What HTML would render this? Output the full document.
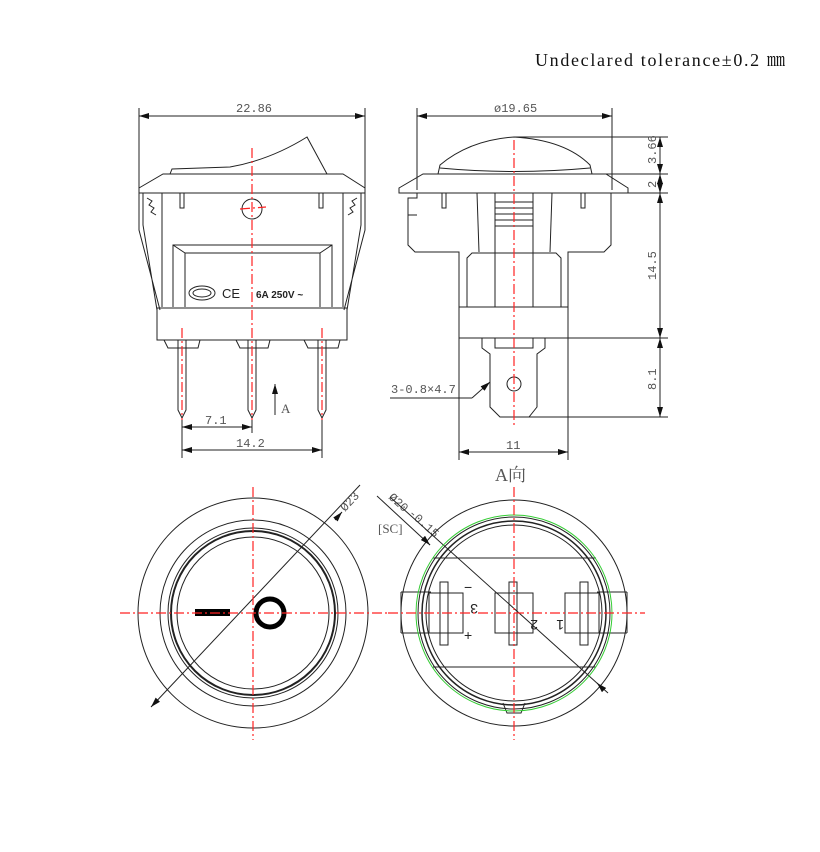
<!DOCTYPE html>
<html><head><meta charset="utf-8"><style>
body{margin:0;background:#fff;width:820px;height:852px;overflow:hidden}
svg{display:block}
text{font-family:"Liberation Mono",monospace;fill:#555;font-size:12px}
.k{stroke:#222;stroke-width:1;fill:none}
.r{stroke:#f22;stroke-width:1.2;stroke-dasharray:10,3,2,3;fill:none}
</style></head><body>
<svg width="820" height="852" viewBox="0 0 820 852">
<defs><marker id="a" markerWidth="10" markerHeight="6" refX="10" refY="3" orient="auto-start-reverse" markerUnits="userSpaceOnUse"><path d="M0,0L10,3L0,6z" fill="#111"/></marker></defs>
<text x="535" y="66" textLength="250" lengthAdjust="spacing" style="font-family:'Liberation Serif','Noto Serif CJK SC',serif;font-size:18px;fill:#111">Undeclared tolerance±0.2 ㎜</text>

<!-- LEFT FRONT VIEW -->
<g class="k">
<line x1="139" y1="108" x2="139" y2="190"/><line x1="365" y1="108" x2="365" y2="190"/>
<line x1="139" y1="116" x2="365" y2="116" marker-start="url(#a)" marker-end="url(#a)"/>
<path d="M170,174 L172,169 L230,167 Q270,160 307,137 L327,174"/>
<path d="M139,188 L163,174 L343,174 L365,188 L365,193 L139,193 Z"/>
<path d="M143,193 L143,225 L157,310 M139,193 L139,230 L160,310 M361,193 L361,225 L347,310 M365,193 L365,230 L344,310"/>
<line x1="162" y1="193" x2="162" y2="307"/><line x1="343" y1="193" x2="343" y2="307"/>
<path d="M147,198 l5,3 -3,4 5,3 -3,4 5,3 M357,198 l-5,3 3,4 -5,3 3,4 -5,3"/>
<rect x="180" y="193" width="4" height="15"/><rect x="319" y="193" width="4" height="15"/>
<circle cx="252" cy="209" r="10"/>
<path d="M173,307 L173,245 L332,245 L332,307 M185,307 L185,253 L320,253 L320,307 M173,245 L185,253 M332,245 L320,253"/>
<path d="M157,308 L347,308 L347,340 L157,340 Z"/>
<path d="M164,340 L168,348 L198,348 L200,340 M236,340 L240,348 L268,348 L270,340 M304,340 L308,348 L338,348 L340,340"/>
<path d="M178,340 L178,410 L182,418 L186,410 L186,340 M248,340 L248,410 L252,418 L256,410 L256,340 M318,340 L318,410 L322,418 L326,410 L326,340"/>
<ellipse cx="202" cy="293" rx="13" ry="7"/><ellipse cx="202" cy="293" rx="9" ry="4"/>
<line x1="182" y1="418" x2="182" y2="458"/><line x1="252" y1="418" x2="252" y2="433"/><line x1="322" y1="418" x2="322" y2="458"/>
<line x1="182" y1="427" x2="252" y2="427" marker-start="url(#a)" marker-end="url(#a)"/>
<line x1="182" y1="450" x2="322" y2="450" marker-start="url(#a)" marker-end="url(#a)"/>
<line x1="275" y1="415" x2="275" y2="384" marker-end="url(#a)"/>
</g>
<text x="222" y="298" style="font-family:'Liberation Sans',sans-serif;font-size:13px;fill:#222">CE</text>
<text x="256" y="298" style="font-family:'Liberation Sans',sans-serif;font-size:10px;font-weight:bold;fill:#222">6A 250V ~</text>
<text x="236" y="112">22.86</text><text x="205" y="424">7.1</text><text x="236" y="447">14.2</text>
<text x="281" y="413" style="font-family:'Liberation Serif',serif;font-size:13px">A</text>
<g class="r"><line x1="252" y1="148" x2="252" y2="420"/><line x1="240" y1="209" x2="266" y2="207"/><line x1="182" y1="328" x2="182" y2="420"/><line x1="322" y1="328" x2="322" y2="420"/></g>

<!-- RIGHT SIDE VIEW -->
<g class="k">
<line x1="417" y1="108" x2="417" y2="190"/><line x1="612" y1="108" x2="612" y2="190"/>
<line x1="417" y1="116" x2="612" y2="116" marker-start="url(#a)" marker-end="url(#a)"/>
<path d="M438,174 L440,165 Q470,140 514,137 Q565,140 590,165 L592,174 M440,168 Q514,175 590,168"/>
<path d="M399,188 L423,174 L606,174 L628,188 L628,193 L399,193 Z"/>
<path d="M417,193 L417,198 L408,198 L408,215 L417,215 L408,215 L408,245 L415,252 L459,252 L459,338 M611,193 L611,245 L604,252 L568,252 L568,338"/>
<rect x="442" y="193" width="4" height="15"/><rect x="581" y="193" width="4" height="15"/>
<path d="M477,193 L479,252 M552,193 L550,252 M495,193 L495,307 M533,193 L533,307 M495,202 L533,202 M495,208 L533,208 M495,214 L533,214 M495,220 L533,220 M495,226 L533,226"/>
<path d="M467,307 L467,258 L472,253 L556,253 L561,258 L561,307"/>
<line x1="459" y1="307" x2="568" y2="307"/><line x1="459" y1="338" x2="568" y2="338"/>
<path d="M482,338 L482,348 L490,354 L490,407 L500,417 L529,417 L537,407 L537,354 L545,348 L545,338 M495,338 L495,348 L533,348 L533,338"/>
<circle cx="514" cy="384" r="7"/>
<line x1="459" y1="338" x2="459" y2="460"/><line x1="568" y1="338" x2="568" y2="460"/>
<line x1="459" y1="452" x2="568" y2="452" marker-start="url(#a)" marker-end="url(#a)"/>
<line x1="390" y1="398" x2="472" y2="398"/><line x1="472" y1="398" x2="490" y2="382" marker-end="url(#a)"/>
<path d="M514,137 L668,137 M606,174 L668,174 M628,193 L668,193 M568,338 L668,338 M529,417 L668,417"/>
<line x1="660" y1="137" x2="660" y2="174" marker-start="url(#a)" marker-end="url(#a)"/>
<line x1="660" y1="174" x2="660" y2="193" marker-start="url(#a)" marker-end="url(#a)"/>
<line x1="660" y1="193" x2="660" y2="338" marker-start="url(#a)" marker-end="url(#a)"/>
<line x1="660" y1="338" x2="660" y2="417" marker-start="url(#a)" marker-end="url(#a)"/>
</g>
<text x="494" y="112">ø19.65</text><text x="506" y="449">11</text><text x="391" y="393">3-0.8×4.7</text>
<g font-size="12"><text transform="translate(656,164) rotate(-90)">3.66</text><text transform="translate(656,188) rotate(-90)">2</text><text transform="translate(656,280) rotate(-90)">14.5</text><text transform="translate(656,390) rotate(-90)">8.1</text></g>
<line class="r" x1="514" y1="140" x2="514" y2="425"/>
<text x="495" y="481" style="font-family:'Liberation Serif','Noto Serif CJK SC',serif;font-size:18px">A向</text>

<!-- BOTTOM LEFT -->
<g class="k">
<circle cx="253" cy="613" r="115"/><circle cx="253" cy="613" r="93"/><circle cx="253" cy="613" r="85"/><circle cx="253" cy="613" r="82" stroke-width="2"/><circle cx="253" cy="613" r="76"/>
<line x1="151" y1="707" x2="360" y2="485" marker-start="url(#a)"/>
<line x1="335" y1="520" x2="342" y2="512" marker-end="url(#a)"/>
<line x1="377" y1="496" x2="430" y2="545"/>
</g>
<rect x="195" y="609" width="35" height="7" fill="#000"/>
<circle cx="270" cy="613" r="14" fill="none" stroke="#000" stroke-width="5"/>
<text transform="translate(345,512) rotate(-47)">Ø23</text>
<text transform="translate(388,498) rotate(42)">Ø20</text>
<text transform="translate(408,514) rotate(42)" font-size="8">-0.15</text>
<text x="378" y="533" style="font-family:'Liberation Serif',serif;font-size:13px">[SC]</text>
<g class="r"><line x1="120" y1="613" x2="388" y2="613"/><line x1="253" y1="487" x2="253" y2="740"/></g>

<!-- BOTTOM RIGHT -->
<g class="k">
<circle cx="514" cy="613" r="113"/><circle cx="514" cy="613" r="96"/><circle cx="514" cy="613" r="92" stroke-width="1.5"/><circle cx="514" cy="613" r="88"/>
<path d="M401,592 L431,592 M401,633 L431,633 M401,592 L401,633 M627,592 L597,592 M627,633 L597,633 M627,592 L627,633"/>
<line x1="433" y1="558" x2="596" y2="558"/><line x1="433" y1="667" x2="596" y2="667"/>
<path d="M503,703 L507,713 L521,713 L525,703"/>
<rect x="429" y="593" width="34" height="40"/><rect x="440" y="582" width="8" height="63"/>
<rect x="495" y="593" width="38" height="40"/><rect x="509" y="582" width="8" height="63"/>
<rect x="565" y="593" width="34" height="40"/><rect x="580" y="582" width="8" height="63"/>
<line x1="390" y1="497" x2="608" y2="693"/>
<line x1="425" y1="540" x2="430" y2="545" marker-end="url(#a)"/><line x1="602" y1="688" x2="597" y2="683" marker-end="url(#a)"/>
</g>
<circle cx="514" cy="613" r="98" fill="none" stroke="#3c3" stroke-width="1"/>
<text x="464" y="592" style="font-family:'Liberation Sans',sans-serif;font-size:14px;fill:#222">−</text>
<text x="464" y="640" style="font-family:'Liberation Sans',sans-serif;font-size:14px;fill:#222">+</text>
<text transform="translate(466,604) rotate(180)" style="font-family:'Liberation Sans',sans-serif;font-size:14px;fill:#222" x="-12">3</text>
<text transform="translate(538,620) rotate(180)" style="font-family:'Liberation Sans',sans-serif;font-size:14px;fill:#222">2</text>
<text transform="translate(564,620) rotate(180)" style="font-family:'Liberation Sans',sans-serif;font-size:14px;fill:#222">1</text>
<g class="r"><line x1="388" y1="613" x2="645" y2="613"/><line x1="514" y1="487" x2="514" y2="740"/></g>
</svg>
</body></html>
